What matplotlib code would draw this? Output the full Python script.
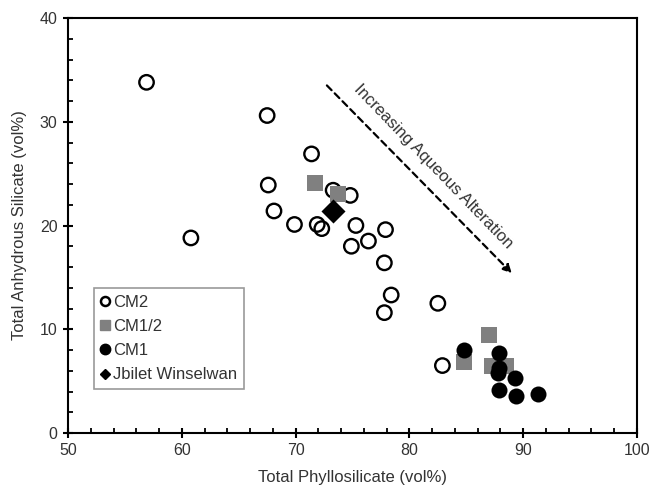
import numpy as np
import matplotlib.pyplot as plt
from matplotlib.lines import Line2D
from matplotlib.ticker import MultipleLocator

plt.rcParams['font.family'] = ['Liberation Sans', 'DejaVu Sans']

# =========================
# DATA
# =========================

cm2_x = [56.9, 67.5, 71.4, 67.6, 73.3, 74.8, 68.1, 69.9, 71.9, 72.3,
         60.8, 75.3, 74.9, 76.4, 77.9, 77.8, 78.4, 77.8, 82.5, 82.9]
cm2_y = [33.8, 30.6, 26.9, 23.9, 23.4, 22.9, 21.4, 20.1, 20.1, 19.7,
         18.8, 20.0, 18.0, 18.5, 19.6, 16.4, 13.3, 11.6, 12.5, 6.5]

cm12_x = [71.7, 73.7, 87.0, 84.8, 87.3, 88.5]
cm12_y = [24.1, 23.0, 9.4, 6.8, 6.5, 6.5]

cm1_x = [84.8, 87.9, 87.9, 87.8, 89.3, 87.9, 89.4, 91.3]
cm1_y = [8.0, 7.7, 6.3, 5.8, 5.3, 4.1, 3.6, 3.8]

jb_x = [73.3]
jb_y = [21.4]

arrow_start = (72.75, 33.5)
arrow_end = (89.0, 15.4)
arrow_text = "Increasing Aqueous Alteration"
text_pos = (82.1, 25.7)

gray = "#808080"
txt = "#333333"

# =========================
# PLOT
# =========================

fig = plt.figure(figsize=(6.49, 4.88), dpi=100)
ax = fig.add_axes([68/649, 1 - 433/488, 569/649, 415/488])

ax.scatter(cm2_x, cm2_y, s=108, facecolors='none', edgecolors='black',
           linewidths=1.7, zorder=3)
ax.scatter(cm12_x, cm12_y, s=144, marker='s', color=gray, linewidths=0, zorder=4)
ax.scatter(cm1_x, cm1_y, s=133, color='black', linewidths=0, zorder=5)
ax.scatter(jb_x, jb_y, s=150, marker='D', color='black', linewidths=0, zorder=6)

# streckad pil
ax.annotate("", xy=arrow_end, xytext=arrow_start,
            arrowprops=dict(arrowstyle='-|>,head_length=0.5,head_width=0.25',
                            color='black', lw=1.6, linestyle=(0, (3, 2)),
                            shrinkA=0, shrinkB=0))
ax.text(text_pos[0], text_pos[1], arrow_text, rotation=-46,
        rotation_mode='anchor', ha='center', va='center', fontsize=12, color=txt)

ax.set_xlim(50, 100)
ax.set_ylim(0, 40)
ax.xaxis.set_major_locator(MultipleLocator(10))
ax.xaxis.set_minor_locator(MultipleLocator(2))
ax.yaxis.set_major_locator(MultipleLocator(10))
ax.yaxis.set_minor_locator(MultipleLocator(2))

for sp in ax.spines.values():
    sp.set_linewidth(1.5)
ax.tick_params(which='major', direction='inout', length=7, width=1.5,
               labelsize=11.5, labelcolor=txt, pad=4)
ax.tick_params(which='minor', direction='in', length=3.5, width=1.3)

ax.set_xlabel("Total Phyllosilicate (vol%)", fontsize=12, color=txt)
ax.set_ylabel("Total Anhydrous Silicate (vol%)", fontsize=12, color=txt)
ax.xaxis.set_label_coords((352 - 68) / 569, (433 - 470) / 415)
ax.yaxis.set_label_coords((27 - 68) / 569, 0.5)

handles = [
    Line2D([], [], ls='none', marker='o', ms=6.5, mfc='none', mec='black', mew=1.8),
    Line2D([], [], ls='none', marker='s', ms=7, color=gray),
    Line2D([], [], ls='none', marker='o', ms=7.5, color='black'),
    Line2D([], [], ls='none', marker='D', ms=5, color='black'),
]
labels = ["CM2", "CM1/2", "CM1", "Jbilet Winselwan"]
leg = ax.legend(handles, labels, loc='lower left',
                bbox_to_anchor=((94 - 68) / 569, (433 - 389) / 415),
                borderaxespad=0, fontsize=12, frameon=True, fancybox=False,
                handlelength=0.5, handletextpad=0.25, labelspacing=0.55,
                borderpad=0.4, edgecolor=gray, labelcolor=txt)
leg.get_frame().set_linewidth(1.2)

fig.savefig("out.png", dpi=100)
